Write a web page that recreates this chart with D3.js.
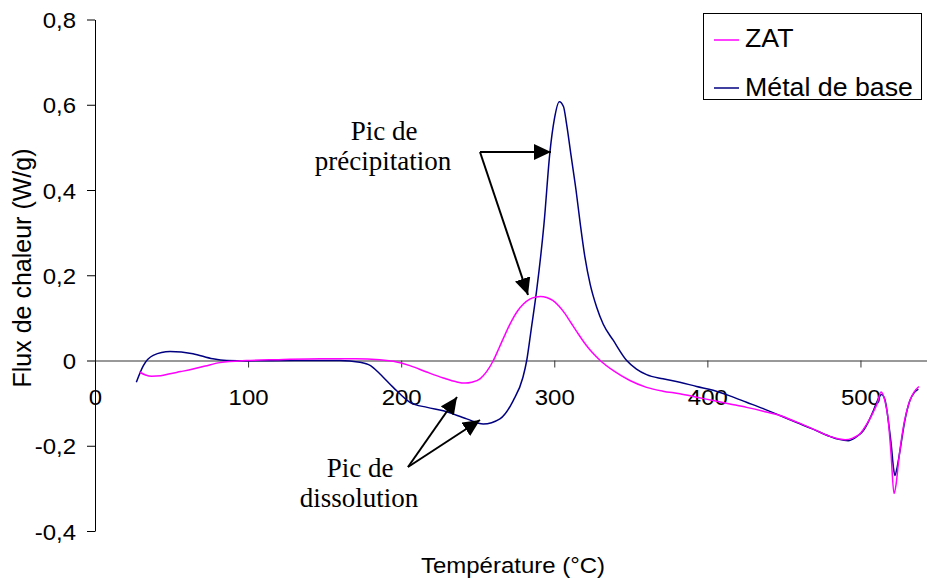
<!DOCTYPE html>
<html>
<head>
<meta charset="utf-8">
<script src="https://cdn.jsdelivr.net/npm/d3@7/dist/d3.min.js"></script>
<style>
  html, body { margin: 0; padding: 0; background: #fff; }
  svg { display: block; }
</style>
</head>
<body>
<svg id="chart" width="927" height="579"></svg>
<script>
// ---- Data ----
const xTicks = [0, 100, 200, 300, 400, 500];
const yTicks = [-0.4, -0.2, 0, 0.2, 0.4, 0.6, 0.8];
const seriesNames = ["ZAT", "Métal de base"];

const tempZat = [29, 33, 37, 43, 49, 56, 64, 72, 81.6, 99, 120, 147, 170, 186, 194.9, 205.7, 216.6, 227.5, 236, 242, 246, 251.5, 255.8, 260.2, 264, 268, 272, 276, 280, 284, 288, 291, 295, 299, 303, 307, 311, 315, 320, 325, 330, 338.6, 349.4, 360.3, 371, 382, 393, 403.8, 414.7, 425.6, 436.5, 447.4, 458, 469.2, 480, 486, 490, 495, 499.7, 504, 508.4, 511, 513.4, 516, 518.2, 520, 521.9, 523.3, 524.7, 528, 532.3, 535, 538.2];
const fluxZat = [-0.027, -0.034, -0.037, -0.036, -0.031, -0.026, -0.020, -0.013, -0.005, 0, 0.002, 0.004, 0.004, 0.002, -0.002, -0.012, -0.027, -0.041, -0.050, -0.053, -0.051, -0.043, -0.026, 0, 0.030, 0.062, 0.092, 0.116, 0.133, 0.144, 0.149, 0.150, 0.148, 0.141, 0.128, 0.110, 0.088, 0.066, 0.040, 0.018, 0, -0.024, -0.047, -0.063, -0.072, -0.078, -0.086, -0.094, -0.102, -0.110, -0.119, -0.129, -0.144, -0.161, -0.178, -0.184, -0.186, -0.182, -0.172, -0.150, -0.121, -0.100, -0.074, -0.095, -0.141, -0.220, -0.312, -0.290, -0.243, -0.157, -0.094, -0.074, -0.061];

const tempMetal = [27, 31.6, 38, 49, 64, 77, 86, 100, 130, 160, 173, 180, 186, 194.8, 205.7, 217, 227.5, 242.8, 253.6, 264.5, 273.2, 279.5, 282, 285, 288.5, 293.3, 297.2, 300, 303.3, 306, 308, 311, 314.2, 317, 320, 323.5, 327.7, 332, 338.6, 347.3, 353.7, 360.3, 371, 382, 393, 403.8, 414.7, 425.6, 436.5, 447.4, 458, 469, 480, 486, 492, 497, 501.8, 505, 508.4, 511, 513.8, 516, 517, 518.5, 520.3, 521.5, 522.5, 524, 525.8, 529, 532.3, 535, 537.8];
const fluxMetal = [-0.051, -0.012, 0.012, 0.021, 0.016, 0.004, 0, -0.001, 0, 0, -0.004, -0.012, -0.031, -0.063, -0.098, -0.110, -0.118, -0.137, -0.149, -0.137, -0.094, -0.040, 0, 0.075, 0.165, 0.321, 0.490, 0.565, 0.607, 0.596, 0.556, 0.480, 0.400, 0.320, 0.243, 0.178, 0.125, 0.085, 0.047, 0, -0.020, -0.033, -0.043, -0.051, -0.061, -0.070, -0.083, -0.098, -0.113, -0.129, -0.145, -0.161, -0.178, -0.185, -0.188, -0.180, -0.165, -0.145, -0.118, -0.095, -0.080, -0.092, -0.110, -0.150, -0.204, -0.250, -0.270, -0.250, -0.212, -0.141, -0.094, -0.076, -0.067];

const seriesColors = ["#FF00FF", "#000080"];

// ---- Chart ----
const svg = d3.select("#chart");
const x = d3.scaleLinear().domain([0, 550]).range([95, 937]);
const y = d3.scaleLinear().domain([-0.4, 0.8]).range([531, 19.5]);

const loc = d3.formatLocale({decimal: ",", thousands: " ", grouping: [3], currency: ["", ""], minus: "-"});
const fmtY = v => v === 0 ? "0" : loc.format(".1f")(v);

const font = "Arial, 'Liberation Sans', sans-serif";
const serif = "'Times New Roman', 'Liberation Serif', serif";
const sx = 1.09;

// Y axis
const yAxis = svg.append("g")
  .attr("transform", `translate(${x(0)},0)`)
  .call(d3.axisLeft(y).tickValues(yTicks).tickFormat(fmtY).tickSize(8).tickSizeOuter(0));
yAxis.selectAll("text").attr("font-family", font).attr("font-size", 22).attr("fill", "#000")
  .attr("x", -19 / sx).attr("dy", "0.37em").attr("transform", `scale(${sx},1)`);
yAxis.selectAll("line, path").attr("stroke", "#000").attr("stroke-width", 1);

// X axis (at y = 0)
const xAxis = svg.append("g")
  .attr("transform", `translate(0,${y(0)})`)
  .call(d3.axisBottom(x).tickValues(xTicks).tickFormat(d3.format("d")).tickSize(7).tickSizeOuter(0));
xAxis.selectAll("text").attr("font-family", font).attr("font-size", 22).attr("fill", "#000")
  .attr("y", 28.4).attr("transform", `scale(${sx},1)`);
xAxis.selectAll("line, path").attr("stroke", "#333").attr("stroke-width", 1);
xAxis.select(".tick line").remove();

// Lines
const line = d3.line().x(d => x(d[0])).y(d => y(d[1])).curve(d3.curveMonotoneX);
const dataZat = tempZat.map((t, i) => [t, fluxZat[i]]);
const dataMetal = tempMetal.map((t, i) => [t, fluxMetal[i]]);

svg.append("path").datum(dataMetal).attr("d", line)
  .attr("fill", "none").attr("stroke", seriesColors[1]).attr("stroke-width", 1.5);
svg.append("path").datum(dataZat).attr("d", line)
  .attr("fill", "none").attr("stroke", seriesColors[0]).attr("stroke-width", 1.5);

// Axis titles
svg.append("text")
  .attr("transform", "translate(30.5,268) rotate(-90)")
  .attr("text-anchor", "middle")
  .attr("font-family", font).attr("font-size", 25)
  .text("Flux de chaleur (W/g)");
svg.append("text")
  .attr("transform", `translate(513,573) scale(${sx},1)`)
  .attr("text-anchor", "middle")
  .attr("font-family", font).attr("font-size", 22)
  .text("Température (°C)");

// Legend
const lg = svg.append("g");
lg.append("rect").attr("x", 703.5).attr("y", 13.5).attr("width", 218).attr("height", 86)
  .attr("fill", "#fff").attr("stroke", "#000").attr("stroke-width", 1);
const legendLineY = [40, 88];
const legendTextY = [47, 96];
seriesNames.forEach((name, i) => {
  lg.append("line").attr("x1", 714).attr("x2", 739).attr("y1", legendLineY[i]).attr("y2", legendLineY[i])
    .attr("stroke", seriesColors[i]).attr("stroke-width", 1.5);
  lg.append("text").attr("transform", `translate(745,${legendTextY[i]}) scale(1.07,1)`)
    .attr("font-family", font).attr("font-size", 25).text(name);
});

// Annotations
const defs = svg.append("defs");
defs.append("marker").attr("id", "arr").attr("viewBox", "0 0 17 16")
  .attr("refX", 17).attr("refY", 8).attr("markerWidth", 17).attr("markerHeight", 16)
  .attr("markerUnits", "userSpaceOnUse").attr("orient", "auto")
  .append("path").attr("d", "M0,0 L17,8 L0,16 Z").attr("fill", "#000");

const ann = svg.append("g").attr("font-family", serif).attr("font-size", 27).attr("text-anchor", "middle");
ann.append("text").attr("x", 384).attr("y", 140).text("Pic de");
ann.append("text").attr("x", 383).attr("y", 170).text("précipitation");
ann.append("text").attr("x", 360).attr("y", 477).text("Pic de");
ann.append("text").attr("x", 359).attr("y", 507).text("dissolution");

const arrows = [
  [480, 152, 551, 152],
  [480, 152, 528, 295],
  [408, 467, 457, 397],
  [408, 467, 480, 420]
];
arrows.forEach(a => {
  svg.append("line").attr("x1", a[0]).attr("y1", a[1]).attr("x2", a[2]).attr("y2", a[3])
    .attr("stroke", "#000").attr("stroke-width", 2).attr("marker-end", "url(#arr)");
});
</script>
</body>
</html>
